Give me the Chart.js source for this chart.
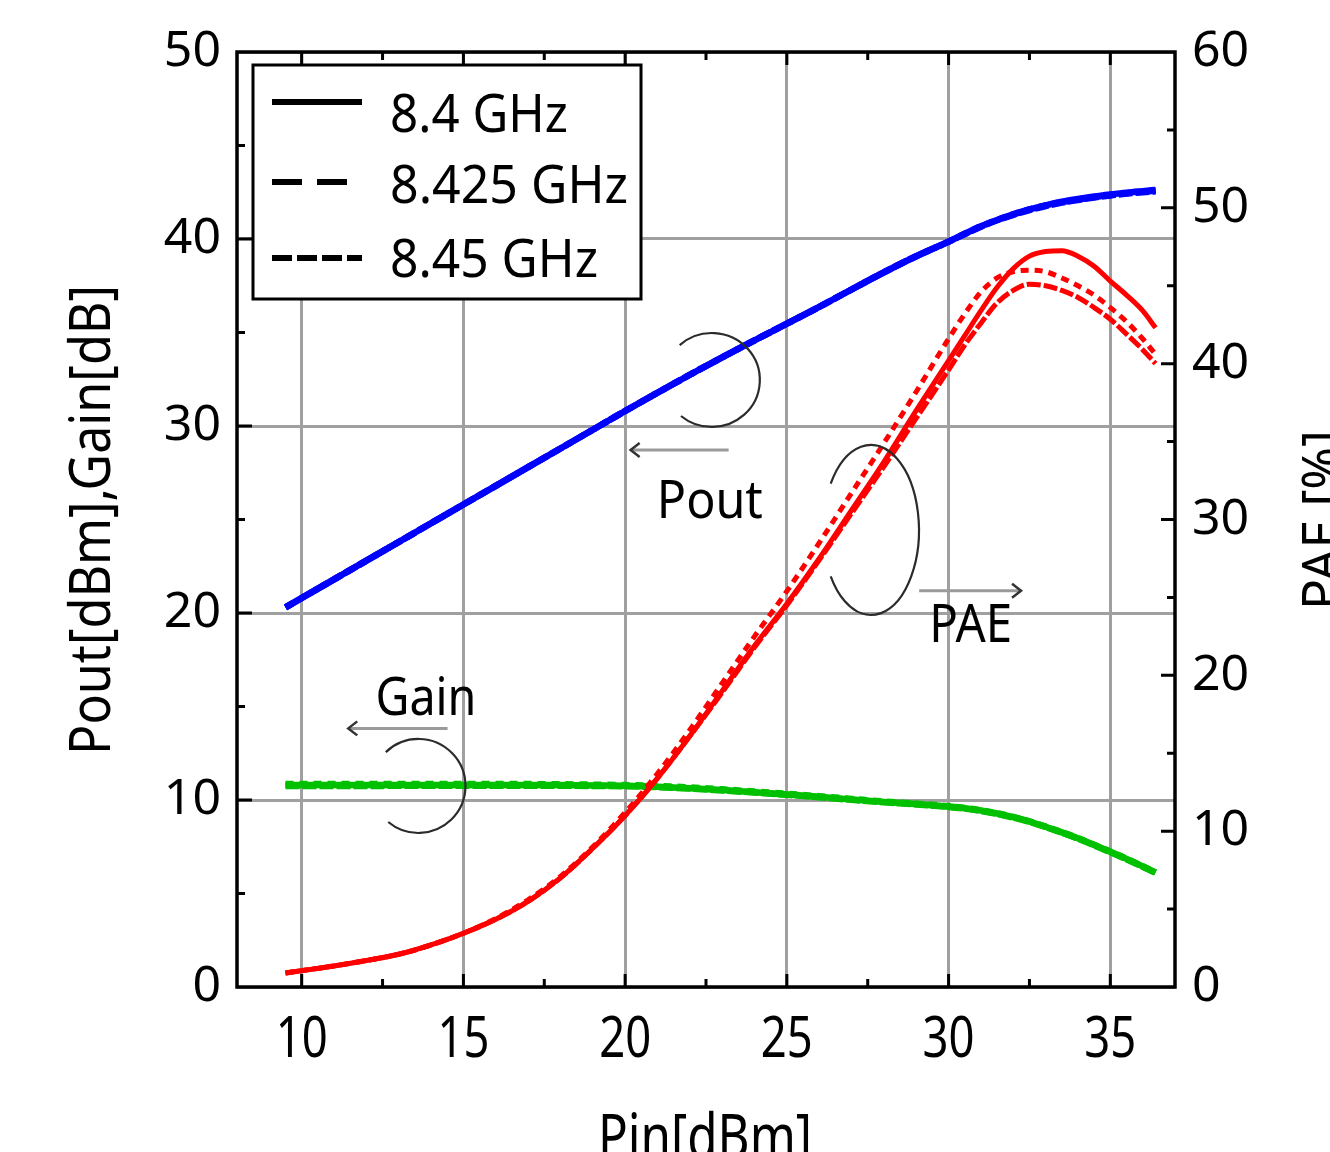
<!DOCTYPE html>
<html>
<head>
<meta charset="utf-8">
<script src="https://cdn.jsdelivr.net/npm/chart.js@4.4.0/dist/chart.umd.min.js"></script>
<style>
html,body{margin:0;padding:0;background:#fff;overflow:hidden}
canvas{display:block}
</style>
</head>
<body>
<canvas id="c" width="1330" height="1152" style="width:1330px;height:1152px"></canvas>
<script>
// ---------------- data ----------------
const freqLabels = ['8.4 GHz', '8.425 GHz', '8.45 GHz'];
const pin = [9.5, 10, 11, 12, 13, 14, 15, 16, 17, 18, 19, 20, 21, 22, 23, 24, 25, 26, 27, 28, 29, 30,
             30.5, 31, 31.5, 32, 32.5, 33, 33.5, 34, 34.5, 35, 35.5, 36, 36.4];

const pout84   = [20.3, 20.8, 21.8, 22.8, 23.8, 24.8, 25.8, 26.8, 27.8, 28.8, 29.8, 30.8, 31.78, 32.74, 33.67, 34.58, 35.47, 36.37, 37.3, 38.22, 39.08, 39.86,
                  40.28, 40.68, 41.02, 41.32, 41.58, 41.8, 41.99, 42.14, 42.27, 42.38, 42.48, 42.56, 42.62];
const pout8425 = [20.3, 20.8, 21.8, 22.8, 23.8, 24.8, 25.8, 26.8, 27.8, 28.8, 29.8, 30.8, 31.78, 32.74, 33.67, 34.58, 35.47, 36.37, 37.3, 38.22, 39.08, 39.86,
                  40.28, 40.68, 41.02, 41.32, 41.58, 41.79, 41.97, 42.11, 42.24, 42.35, 42.45, 42.53, 42.58];
const pout845  = [20.3, 20.8, 21.8, 22.8, 23.8, 24.8, 25.8, 26.8, 27.8, 28.8, 29.8, 30.8, 31.78, 32.74, 33.67, 34.58, 35.47, 36.37, 37.3, 38.22, 39.08, 39.85,
                  40.26, 40.66, 41.0, 41.29, 41.55, 41.76, 41.95, 42.09, 42.22, 42.33, 42.43, 42.5, 42.55];

const gain84   = [10.8, 10.8, 10.8, 10.8, 10.8, 10.8, 10.8, 10.8, 10.8, 10.8, 10.78, 10.76, 10.71, 10.63, 10.53, 10.42, 10.3, 10.17, 10.03, 9.9, 9.78, 9.65,
                  9.56, 9.44, 9.28, 9.08, 8.85, 8.57, 8.27, 7.95, 7.6, 7.23, 6.85, 6.45, 6.12];
const gain8425 = [10.85, 10.85, 10.85, 10.85, 10.85, 10.85, 10.85, 10.85, 10.85, 10.84, 10.82, 10.8, 10.75, 10.67, 10.57, 10.45, 10.33, 10.2, 10.06, 9.92, 9.8, 9.67,
                  9.57, 9.45, 9.29, 9.09, 8.86, 8.58, 8.28, 7.96, 7.61, 7.24, 6.86, 6.46, 6.13];
const gain845  = [10.75, 10.75, 10.75, 10.75, 10.76, 10.76, 10.76, 10.76, 10.76, 10.76, 10.75, 10.73, 10.69, 10.61, 10.51, 10.4, 10.28, 10.15, 10.01, 9.88, 9.76, 9.63,
                  9.54, 9.42, 9.26, 9.06, 8.83, 8.55, 8.25, 7.93, 7.58, 7.21, 6.83, 6.43, 6.1];

const pae84    = [0.9, 1.05, 1.35, 1.7, 2.1, 2.7, 3.45, 4.35, 5.5, 7.0, 8.9, 11.0, 13.4, 16.1, 19.0, 21.9, 24.6, 27.5, 30.6, 33.7, 37.0, 40.2,
                  41.8, 43.4, 44.9, 46.1, 46.9, 47.2, 47.25, 46.9, 46.25, 45.3, 44.4, 43.4, 42.3];
const pae8425  = [0.9, 1.05, 1.35, 1.7, 2.1, 2.7, 3.45, 4.4, 5.6, 7.1, 9.0, 11.2, 13.7, 16.5, 19.5, 22.5, 25.4, 28.5, 31.7, 34.9, 38.2, 41.6,
                  43.2, 44.6, 45.5, 45.9, 46.0, 45.9, 45.5, 45.0, 44.4, 43.6, 42.7, 41.6, 40.6];
const pae845   = [0.9, 1.05, 1.35, 1.7, 2.1, 2.7, 3.45, 4.35, 5.5, 7.0, 8.9, 11.0, 13.4, 16.1, 18.9, 21.8, 24.5, 27.4, 30.4, 33.4, 36.5, 39.6,
                  41.2, 42.6, 43.9, 44.7, 45.1, 45.0, 44.7, 44.25, 43.6, 42.85, 41.9, 40.9, 40.0];

const xTickLabels = [10, 15, 20, 25, 30, 35];
const yLeftTickLabels = [0, 10, 20, 30, 40, 50];
const yRightTickLabels = [0, 10, 20, 30, 40, 50, 60];

// ---------------- chart ----------------
const pts = (xs, ys) => xs.map((x, i) => ({ x: x, y: ys[i] }));
const dashes = [[], [8, 6], [14, 3]];

function series(ys, k, color, width, axis) {
  return {
    label: freqLabels[k],
    data: pts(pin, ys),
    yAxisID: axis,
    showLine: true,
    borderColor: color,
    backgroundColor: color,
    borderWidth: width,
    borderDash: dashes[k],
    pointRadius: 0,
    cubicInterpolationMode: 'monotone',
    fill: false
  };
}

const RED = '#ff0000', BLUE = '#0000ff', GREEN = '#00c000';
const datasets = [
  series(pae84, 0, RED, 5, 'y1'),
  series(pae8425, 1, RED, 5, 'y1'),
  series(pae845, 2, RED, 5, 'y1'),
  series(pout84, 0, BLUE, 6.5, 'y'),
  series(pout8425, 1, BLUE, 6.5, 'y'),
  series(pout845, 2, BLUE, 6.5, 'y'),
  series(gain84, 0, GREEN, 6.5, 'y'),
  series(gain8425, 1, GREEN, 6.5, 'y'),
  series(gain845, 2, GREEN, 6.5, 'y')
];

function fitText(ctx, txt, x, y, font, w, rot) {
  ctx.save();
  ctx.font = font;
  const m = ctx.measureText(txt).width;
  ctx.translate(x, y);
  if (rot) ctx.rotate(rot);
  ctx.scale(w / m, 1);
  ctx.textAlign = 'left';
  ctx.textBaseline = 'alphabetic';
  ctx.fillStyle = '#000';
  ctx.fillText(txt, 0, 0);
  ctx.restore();
}

function arrow(ctx, x0, y0, x1, y1) {
  ctx.save();
  ctx.strokeStyle = '#9a9a9a';
  ctx.lineWidth = 3;
  ctx.beginPath(); ctx.moveTo(x0, y0); ctx.lineTo(x1, y1); ctx.stroke();
  const dir = Math.sign(x1 - x0);
  ctx.strokeStyle = '#333';
  ctx.lineWidth = 2.5;
  ctx.beginPath();
  ctx.moveTo(x1 - dir * 9, y1 - 7);
  ctx.lineTo(x1, y1);
  ctx.lineTo(x1 - dir * 9, y1 + 7);
  ctx.stroke();
  ctx.restore();
}

// annotations (data coordinates of left axis / x axis)
const arcs = [
  { cx: 22.68, cy: 32.46, rx: 48, ry: 47, a0: -132, a1: 130 },
  { cx: 27.60, cy: 24.44, rx: 48, ry: 85, a0: -147, a1: 147 },
  { cx: 13.61, cy: 10.75, rx: 47, ry: 47, a0: -134, a1: 130 }
];
const arrows = [
  { x0: 23.20, x1: 20.17, y: 28.72 },
  { x0: 29.09, x1: 32.24, y: 21.19 },
  { x0: 14.51, x1: 11.44, y: 13.83 }
];
const notes = [
  { t: 'Pout', x: 20.98, y: 25.08, w: 106 },
  { t: 'PAE',  x: 29.40, y: 18.45, w: 83 },
  { t: 'Gain', x: 12.28, y: 14.55, w: 101 }
];

const decor = {
  id: 'decor',
  afterDatasetsDraw(chart) {
    const ctx = chart.ctx, a = chart.chartArea;
    const X = chart.scales.x, Y = chart.scales.y, Y1 = chart.scales.y1;
    ctx.save();

    // inward tick marks
    ctx.strokeStyle = '#000';
    ctx.lineWidth = 3;
    ctx.beginPath();
    for (let v = 10; v <= 35; v += 2.5) {
      const px = X.getPixelForValue(v);
      const L = (v % 5 === 0) ? 13 : 8;
      ctx.moveTo(px, a.bottom); ctx.lineTo(px, a.bottom - L);
      ctx.moveTo(px, a.top); ctx.lineTo(px, a.top + L);
    }
    for (let v = 5; v < 50; v += 5) {
      const py = Y.getPixelForValue(v);
      const L = (v % 10 === 0) ? 15 : 8;
      ctx.moveTo(a.left, py); ctx.lineTo(a.left + L, py);
    }
    for (let v = 5; v < 60; v += 5) {
      const py = Y1.getPixelForValue(v);
      const L = (v % 10 === 0) ? 14 : 8;
      ctx.moveTo(a.right, py); ctx.lineTo(a.right - L, py);
    }
    ctx.stroke();

    // frame
    ctx.lineWidth = 3.5;
    ctx.strokeRect(a.left, a.top, a.right - a.left, a.bottom - a.top);

    // x tick labels (narrow face)
    for (const v of xTickLabels) {
      fitText(ctx, String(v), X.getPixelForValue(v) - 26, a.bottom + 70, '56px "Noto Sans"', 52);
    }

    // annotation arcs
    ctx.strokeStyle = '#2b2b2b';
    ctx.lineWidth = 2.2;
    for (const e of arcs) {
      ctx.beginPath();
      ctx.ellipse(X.getPixelForValue(e.cx), Y.getPixelForValue(e.cy), e.rx, e.ry, 0,
                  e.a0 * Math.PI / 180, e.a1 * Math.PI / 180, false);
      ctx.stroke();
    }
    for (const r of arrows) {
      const py = Y.getPixelForValue(r.y);
      arrow(ctx, X.getPixelForValue(r.x0), py, X.getPixelForValue(r.x1), py);
    }
    for (const n of notes) {
      fitText(ctx, n.t, X.getPixelForValue(n.x), Y.getPixelForValue(n.y), '53px "Noto Sans"', n.w);
    }

    // legend
    const lx = a.left + 16, ly = a.top + 13;
    ctx.fillStyle = '#fff';
    ctx.fillRect(lx, ly, 388, 234);
    ctx.strokeStyle = '#000';
    ctx.lineWidth = 3;
    ctx.strokeRect(lx, ly, 388, 234);
    const rowsY = [37, 117, 193];
    const rowsBase = [67, 138, 212];
    const rowsW = [178, 238, 208];
    const rowsEnd = [90, 75, 90];
    const legDash = [[], [30, 15], [20, 5]];
    for (let k = 0; k < freqLabels.length; k++) {
      ctx.save();
      ctx.strokeStyle = '#000';
      ctx.lineWidth = 6;
      ctx.setLineDash(legDash[k]);
      ctx.beginPath();
      ctx.moveTo(lx + 19, ly + rowsY[k]);
      ctx.lineTo(lx + 19 + rowsEnd[k], ly + rowsY[k]);
      ctx.stroke();
      ctx.restore();
      fitText(ctx, freqLabels[k], lx + 137, ly + rowsBase[k], '53px "Noto Sans"', rowsW[k]);
    }

    // axis titles
    fitText(ctx, 'Pout[dBm],Gain[dB]', 110, 755, '56px "Noto Sans"', 470, -Math.PI / 2);
    fitText(ctx, 'PAE [%]', 1340, 610, '53px "Noto Sans"', 180, -Math.PI / 2);
    fitText(ctx, 'Pin[dBm]', 598, 1158, '62px "Noto Sans"', 214);

    ctx.restore();
  }
};

const gridStyle = { color: '#a0a0a0', lineWidth: 3, drawTicks: false };

new Chart(document.getElementById('c'), {
  type: 'scatter',
  data: { datasets: datasets },
  options: {
    responsive: false,
    animation: false,
    events: [],
    layout: { padding: { top: 52, left: 0, right: 0, bottom: 0 } },
    plugins: { legend: { display: false }, tooltip: { enabled: false } },
    scales: {
      x: {
        type: 'linear', position: 'bottom', min: 8, max: 37,
        afterBuildTicks: s => { s.ticks = xTickLabels.map(v => ({ value: v })); },
        grid: gridStyle,
        border: { display: false },
        ticks: { display: false },
        afterFit: s => { s.height = 165; }
      },
      y: {
        type: 'linear', position: 'left', min: 0, max: 50,
        afterBuildTicks: s => { s.ticks = yLeftTickLabels.map(v => ({ value: v })); },
        grid: gridStyle,
        border: { display: false },
        ticks: { color: '#000', padding: 16, font: { family: '"Noto Sans"', size: 50 } },
        afterFit: s => { s.width = 237; }
      },
      y1: {
        type: 'linear', position: 'right', min: 0, max: 60,
        afterBuildTicks: s => { s.ticks = yRightTickLabels.map(v => ({ value: v })); },
        grid: { display: false, drawTicks: false },
        border: { display: false },
        ticks: { color: '#000', padding: 17, font: { family: '"Noto Sans"', size: 50 } },
        afterFit: s => { s.width = 155; }
      }
    }
  },
  plugins: [decor]
});
</script>
</body>
</html>
